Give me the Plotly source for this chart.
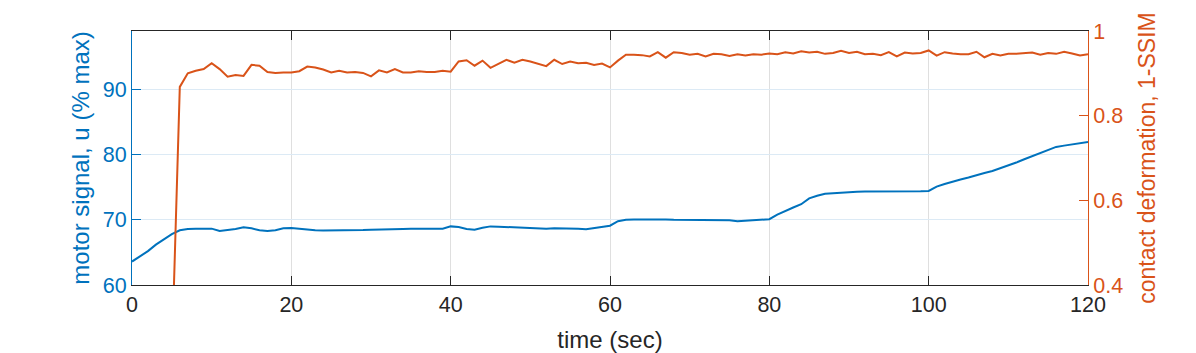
import plotly.graph_objects as go

# time axis (sec), one sample per second
time_sec = list(range(0, 121))

# motor signal, u (% max) - left axis
motor_u = [
    63.6, 64.4, 65.2, 66.2, 67.0, 67.8, 68.4, 68.6, 68.65, 68.7,
    68.65, 68.3, 68.4, 68.6, 68.85, 68.7, 68.4, 68.3, 68.4, 68.7,
    68.75, 68.6, 68.45, 68.4, 68.35, 68.35, 68.4, 68.4, 68.4, 68.45,
    68.5, 68.5, 68.55, 68.6, 68.6, 68.65, 68.65, 68.6, 68.6, 68.65,
    69.0, 68.9, 68.6, 68.5, 68.8, 69.0, 68.95, 68.9, 68.85, 68.8,
    68.65, 68.6, 68.65, 68.7, 68.7, 68.65, 68.65, 68.55, 68.7, 68.95,
    69.1, 69.8, 70.0, 70.05, 70.05, 70.15, 70.1, 70.05, 70.0, 70.0,
    69.95, 69.95, 70.0, 70.0, 70.0, 69.95, 69.8, 69.85, 69.95, 70.0,
    70.1, 70.8, 71.4, 71.9, 72.4, 73.3, 73.7, 74.0, 74.1, 74.2,
    74.3, 74.3, 74.35, 74.35, 74.3, 74.3, 74.3, 74.3, 74.35, 74.4,
    74.45, 75.1, 75.5, 75.9, 76.2, 76.5, 76.9, 77.2, 77.5, 77.9,
    78.3, 78.8, 79.3, 79.8, 80.3, 80.8, 81.2, 81.4, 81.6, 81.8,
    81.95,
]

# contact deformation, 1-SSIM - right axis
deformation = [
    0.02, 0.03, 0.05, 0.08, 0.12, 0.23, 0.868, 0.900, 0.906, 0.910,
    0.924, 0.910, 0.892, 0.896, 0.894, 0.920, 0.918, 0.903, 0.901, 0.902,
    0.902, 0.905, 0.916, 0.914, 0.909, 0.902, 0.906, 0.902, 0.903, 0.901,
    0.893, 0.907, 0.902, 0.910, 0.902, 0.902, 0.905, 0.903, 0.903, 0.906,
    0.904, 0.928, 0.931, 0.918, 0.930, 0.913, 0.922, 0.932, 0.925, 0.932,
    0.928, 0.922, 0.917, 0.932, 0.922, 0.928, 0.924, 0.925, 0.920, 0.923,
    0.914, 0.930, 0.944, 0.944, 0.943, 0.940, 0.950, 0.937, 0.950, 0.948,
    0.944, 0.946, 0.940, 0.946, 0.945, 0.941, 0.945, 0.942, 0.945, 0.944,
    0.947, 0.945, 0.950, 0.947, 0.952, 0.949, 0.951, 0.946, 0.948, 0.953,
    0.948, 0.951, 0.945, 0.946, 0.943, 0.950, 0.940, 0.949, 0.947, 0.948,
    0.954, 0.942, 0.950, 0.947, 0.945, 0.945, 0.951, 0.938, 0.946, 0.942,
    0.946, 0.946, 0.947, 0.949, 0.944, 0.948, 0.946, 0.951, 0.947, 0.942,
    0.945,
]

x_ticks = [0, 20, 40, 60, 80, 100, 120]
left_ticks = [60, 70, 80, 90]
right_ticks = [0.4, 0.6, 0.8, 1]

blue = '#0072BD'
orange = '#D95319'
dark = '#262626'
font_family = 'Liberation Sans, Arial, sans-serif'

fig = go.Figure()

fig.add_trace(go.Scatter(
    x=time_sec, y=motor_u, mode='lines',
    line=dict(color=blue, width=2),
    yaxis='y', showlegend=False,
))

fig.add_trace(go.Scatter(
    x=time_sec, y=deformation, mode='lines',
    line=dict(color=orange, width=2),
    yaxis='y2', showlegend=False,
))

# the page has an 8px body margin, so margins are shifted to compensate
fig.update_layout(
    width=1196,
    height=353,
    margin=dict(l=124, r=116, t=18, b=75),
    paper_bgcolor='white',
    plot_bgcolor='white',
    font=dict(family=font_family, size=21.5, color=dark),
    xaxis=dict(
        range=[0, 120],
        tickvals=x_ticks,
        ticks='inside', ticklen=9, tickcolor=dark, tickwidth=1,
        showline=True, linecolor=dark, linewidth=1, mirror='ticks',
        showgrid=True, gridcolor='#DFDFDF', gridwidth=1,
        zeroline=False,
        tickfont=dict(color=dark, size=21.5),
        title=dict(text='time (sec)', font=dict(size=24, color=dark), standoff=15),
    ),
    yaxis=dict(
        range=[60, 99],
        tickvals=left_ticks,
        ticks='inside', ticklen=9, tickcolor=blue, tickwidth=1,
        showline=True, linecolor=blue, linewidth=1,
        showgrid=True, gridcolor='#DCEAF5', gridwidth=1,
        zeroline=False,
        tickfont=dict(color=blue, size=21.5),
        title=dict(text='motor signal, u (% max)', font=dict(size=24, color=blue), standoff=6),
    ),
    yaxis2=dict(
        range=[0.4, 1],
        tickvals=right_ticks,
        ticktext=['0.4', '0.6', '0.8', '1'],
        overlaying='y', side='right',
        ticks='inside', ticklen=9, tickcolor=orange, tickwidth=1,
        showline=True, linecolor=orange, linewidth=1,
        showgrid=False, zeroline=False,
        tickfont=dict(color=orange, size=21.5),
        title=dict(text='contact deformation, 1-SSIM', font=dict(size=23, color=orange), standoff=16),
    ),
)

fig.write_html("out.html")
